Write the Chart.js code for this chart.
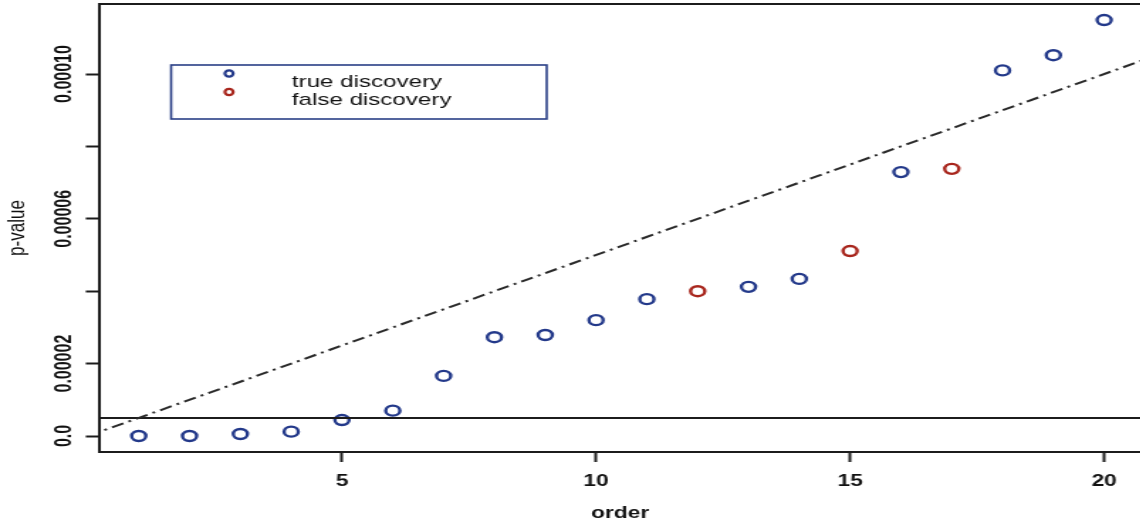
<!DOCTYPE html>
<html>
<head>
<meta charset="utf-8">
<script src="https://cdn.jsdelivr.net/npm/chart.js@4"></script>
<style>
  html, body { margin: 0; padding: 0; background: #fff; overflow: hidden; }
  /* the reference is a stretched R plot, so draw narrow and stretch sideways */
  #wrap { width: 803px; height: 527px; transform: scaleX(1.42); transform-origin: 0 0; }
</style>
</head>
<body>
<div id="wrap"><canvas id="pvalChart" width="803" height="527"></canvas></div>
<script>
// p-values by order, split into true / false discoveries
const trueOrder = [1, 2, 3, 4, 5, 6, 7, 8, 9, 10, 11, 13, 14, 16, 18, 19, 20];
const trueP = [0.0, 0.0, 0.00000055, 0.0000012, 0.0000044, 0.000007, 0.0000166, 0.0000273,
    0.0000279, 0.000032, 0.0000378, 0.0000412, 0.0000434, 0.0000729, 0.000101, 0.0001052, 0.0001149];
const falseOrder = [12, 15, 17];
const falseP = [0.00004, 0.0000511, 0.0000738];

// reference lines
const bhLineX = [0, 22];
const bhLineY = [0, 0.00011];
const flatLineX = [0, 22];
const flatLineY = [0.000005, 0.000005];

// ticks
const xTicks = [5, 10, 15, 20];
const yTicks = [0, 0.00002, 0.00004, 0.00006, 0.00008, 0.0001];
const yTickLabels = ['0.0', '0.00002', '', '0.00006', '', '0.00010'];

const legendLabels = ['true discovery', 'false discovery'];

const colors = {
    trueD: '#23398a',
    falseD: '#a8261d',
    axis: '#1c1c1c'
};

const fontFamily = "'Liberation Sans', Arial, Helvetica, sans-serif";

function toPoints(xs, ys) {
    return xs.map((x, i) => ({ x: x, y: ys[i] }));
}

function noPadding(scale) {
    scale.paddingTop = 0;
    scale.paddingBottom = 0;
    scale.paddingLeft = 0;
    scale.paddingRight = 0;
}

// top edge of the box and the legend, R style
const framePlugin = {
    id: 'frame',
    afterDraw(chart) {
        const ctx = chart.ctx;
        const a = chart.chartArea;
        ctx.save();
        ctx.strokeStyle = colors.axis;
        ctx.lineWidth = 2;
        ctx.beginPath();
        ctx.moveTo(a.left, a.top);
        ctx.lineTo(a.right + 5, a.top);
        ctx.stroke();

        // legend box
        ctx.strokeStyle = '#2a3f86';
        ctx.lineWidth = 1.6;
        ctx.strokeRect(120.5, 65, 264.5, 54);

        // legend symbols
        ctx.lineWidth = 2.2;
        ctx.strokeStyle = colors.trueD;
        ctx.beginPath();
        ctx.ellipse(161.3, 73.5, 2.9, 3.2, 0, 0, Math.PI * 2);
        ctx.stroke();
        ctx.strokeStyle = colors.falseD;
        ctx.beginPath();
        ctx.ellipse(161.3, 92, 2.9, 3.2, 0, 0, Math.PI * 2);
        ctx.stroke();

        ctx.textAlign = 'left';
        ctx.textBaseline = 'alphabetic';
        ctx.fillStyle = '#111';
        ctx.font = '17px ' + fontFamily;
        ctx.fillText(legendLabels[0], 205.5, 87);
        ctx.fillText(legendLabels[1], 205.5, 105);
        ctx.restore();
    }
};

const ctx = document.getElementById('pvalChart').getContext('2d');

new Chart(ctx, {
    type: 'scatter',
    data: {
        datasets: [{
            label: 'BH line',
            data: toPoints(bhLineX, bhLineY),
            showLine: true,
            borderColor: '#2a2a2a',
            borderWidth: 2,
            borderDash: [9, 4, 2, 4],
            pointRadius: 0,
            fill: false
        }, {
            label: 'threshold',
            data: toPoints(flatLineX, flatLineY),
            showLine: true,
            borderColor: colors.axis,
            borderWidth: 2,
            pointRadius: 0,
            fill: false
        }, {
            label: 'true discovery',
            data: toPoints(trueOrder, trueP),
            pointStyle: 'circle',
            pointRadius: 5,
            pointBorderWidth: 2.4,
            pointBorderColor: colors.trueD,
            pointBackgroundColor: 'rgba(0,0,0,0)'
        }, {
            label: 'false discovery',
            data: toPoints(falseOrder, falseP),
            pointStyle: 'circle',
            pointRadius: 5,
            pointBorderWidth: 2.4,
            pointBorderColor: colors.falseD,
            pointBackgroundColor: 'rgba(0,0,0,0)'
        }]
    },
    options: {
        responsive: false,
        animation: false,
        layout: { autoPadding: false, padding: { top: 4, right: 0, left: 0, bottom: 0 } },
        plugins: {
            legend: { display: false },
            tooltip: { enabled: false }
        },
        scales: {
            x: {
                type: 'linear',
                min: 0.237,
                max: 20.71,
                afterBuildTicks: scale => { scale.ticks = xTicks.map(v => ({ value: v })); },
                afterFit: scale => { scale.height = 75; noPadding(scale); },
                grid: { drawOnChartArea: false, tickLength: 10, tickWidth: 2, color: colors.axis },
                border: { color: colors.axis, width: 2 },
                ticks: {
                    color: '#111',
                    font: { family: fontFamily, size: 16, weight: 'bold' },
                    padding: 10,
                    maxRotation: 0
                },
                title: {
                    display: true,
                    text: 'order',
                    color: '#111',
                    font: { family: fontFamily, size: 16, weight: 'bold' },
                    padding: { top: 4, bottom: 4 }
                }
            },
            y: {
                type: 'linear',
                min: -0.00000442,
                max: 0.00011934,
                afterBuildTicks: scale => { scale.ticks = yTicks.map(v => ({ value: v })); },
                afterFit: scale => { scale.width = 70.4; noPadding(scale); },
                grid: { drawOnChartArea: false, tickLength: 10, tickWidth: 2, color: colors.axis },
                border: { color: colors.axis, width: 2 },
                ticks: {
                    color: '#111',
                    font: { family: fontFamily, size: 16, weight: 'bold' },
                    minRotation: 90,
                    maxRotation: 90,
                    crossAlign: 'center',
                    padding: -14,
                    callback: (value) => {
                        const i = yTicks.findIndex(t => Math.abs(t - value) < 1e-9);
                        return i >= 0 ? yTickLabels[i] : '';
                    }
                },
                title: {
                    display: true,
                    text: 'p-value',
                    color: '#111',
                    font: { family: fontFamily, size: 17 },
                    padding: { top: 2, bottom: 2 }
                }
            }
        }
    },
    plugins: [framePlugin]
});
</script>
</body>
</html>
